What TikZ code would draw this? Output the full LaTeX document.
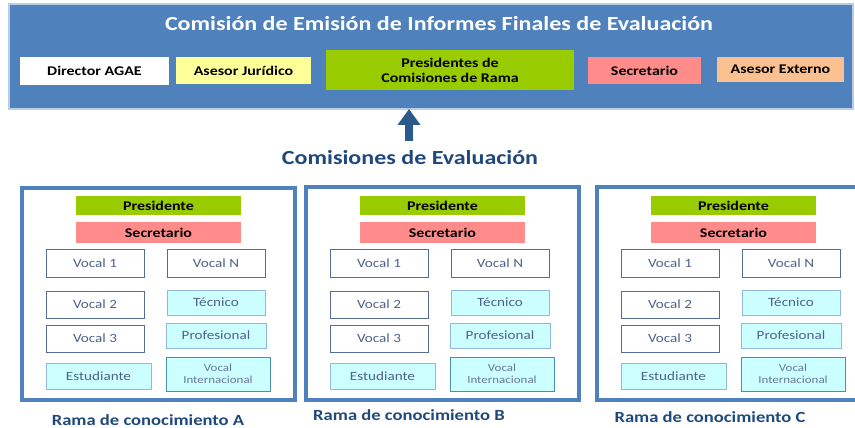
\documentclass[tikz,border=0pt]{standalone}
\usepackage{fontspec}
\setmainfont[FakeStretch=1.2]{Carlito}
\usetikzlibrary{arrows.meta}
\definecolor{banner}{HTML}{4F81BD}
\definecolor{bannerline}{HTML}{B9CDE5}
\definecolor{navy}{HTML}{1F497D}
\definecolor{arrowblue}{HTML}{2A5A8C}
\definecolor{greenfill}{HTML}{99CC00}
\definecolor{pinkfill}{HTML}{FF8B8B}
\definecolor{yellowfill}{HTML}{FFFF99}
\definecolor{orangefill}{HTML}{FAC090}
\definecolor{cyanfill}{HTML}{CCFFFF}
\definecolor{cyanline}{HTML}{93B8E0}
\definecolor{tealline}{HTML}{4A8FB0}
\definecolor{grayline}{HTML}{556C96}
\definecolor{graytext}{HTML}{4F6288}
\definecolor{lightgraytext}{HTML}{66789A}
\tikzset{
  topbox/.style={inner sep=0pt, font=\bfseries\fontsize{13.3}{15}\selectfont, text=black, align=center},
  headbox/.style={inner sep=0pt, font=\bfseries\fontsize{13.3}{15}\selectfont, text=black, minimum width=165pt},
  vocalbox/.style={draw=grayline, line width=1pt, fill=white, inner sep=0pt, text=graytext, font=\fontsize{12.6}{14}\selectfont},
  cyanbox/.style={draw=cyanline, line width=1pt, fill=cyanfill, inner sep=0pt, text=graytext, font=\fontsize{12.6}{14}\selectfont},
  panel/.style={draw=banner, line width=3.2pt, fill=white},
  ramalabel/.style={text=navy, font=\bfseries\fontsize{15.5}{18}\selectfont},
}
\begin{document}
\begin{tikzpicture}[x=1pt,y=-1pt]
\useasboundingbox (0,0) rectangle (855,428);
\fill[white] (0,0) rectangle (855,428);
% banner
\draw[draw=bannerline, line width=1.2pt, fill=banner] (9,4) rectangle (853,109);
\node[text=white, font=\bfseries\fontsize{20}{24}\selectfont] (title) at (439,24) {Comisión de Emisión de Informes Finales de Evaluación};
\node[topbox, fill=white, minimum width=149pt, minimum height=28pt] (director) at (94.5,71) {Director AGAE};
\node[topbox, fill=yellowfill, minimum width=135pt, minimum height=27pt] (juridico) at (243.5,70.5) {Asesor Jurídico};
\node[topbox, fill=greenfill, minimum width=248pt, minimum height=40pt] (presidentes) at (450,70) {Presidentes de\\Comisiones de Rama};
\node[topbox, fill=pinkfill, minimum width=113pt, minimum height=27pt] (secre) at (644.5,70.5) {Secretario};
\node[topbox, fill=orangefill, minimum width=127pt, minimum height=25pt] (externo) at (780.5,69.5) {Asesor Externo};
% arrow
\coordinate (arrbot) at (409,141);
\coordinate (arrtop) at (409,109);
\draw[arrowblue, line width=8pt, -{Triangle[width=22pt,length=16pt]}] (arrbot) -- (arrtop);
\node[text=navy, font=\bfseries\fontsize{20}{24}\selectfont] (comisiones) at (410,158) {Comisiones de Evaluación};
% panels
\foreach \dx/\dy/\L/\lx/\ly in {0/0/A/148/420, 284/-1/B/409/415, 575/-1/C/710/417}{
  \begin{scope}[shift={(\dx,0)}]
  \draw[panel] (22,188+\dy) rectangle (295,400);
  \node[headbox, fill=greenfill, minimum height=19pt] (pres\L) at (158.5,205.5) {Presidente};
  \node[headbox, fill=pinkfill, minimum height=21pt] (sec\L) at (158.5,232.5) {Secretario};
  \node[vocalbox, minimum width=98pt, minimum height=28pt] (vuno\L) at (95,263) {Vocal 1};
  \node[vocalbox, minimum width=98pt, minimum height=28pt] (vn\L) at (216,263) {Vocal N};
  \node[vocalbox, minimum width=98pt, minimum height=27pt] (vdos\L) at (95,304.5) {Vocal 2};
  \node[cyanbox, minimum width=98pt, minimum height=25pt] (tec\L) at (216,302.5) {Técnico};
  \node[vocalbox, minimum width=98pt, minimum height=27pt] (vtres\L) at (95,338.5) {Vocal 3};
  \node[cyanbox, minimum width=100pt, minimum height=25pt] (prof\L) at (216,335.5) {Profesional};
  \node[cyanbox, minimum width=105pt, minimum height=26pt] (est\L) at (98.5,376) {Estudiante};
  \node[cyanbox, draw=tealline, text=lightgraytext, minimum width=104pt, minimum height=34pt, align=center, font=\fontsize{10.8}{12}\selectfont] (vint\L) at (218,374) {Vocal\\Internacional};
  \end{scope}
  \node[ramalabel] (rama\L) at (\lx,\ly) {Rama de conocimiento \L};
}
\end{tikzpicture}
\end{document}
